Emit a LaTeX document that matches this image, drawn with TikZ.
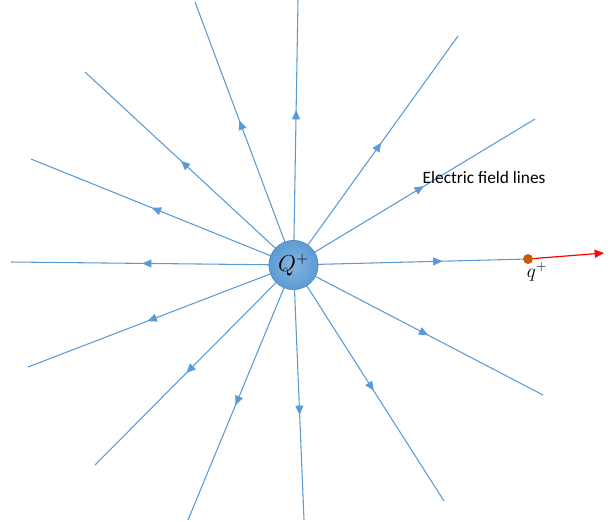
\documentclass[tikz,border=0pt]{standalone}
\usepackage{fontspec}
\usepackage{amsmath}
\newfontfamily\labelfont{Carlito}
\usetikzlibrary{arrows.meta,decorations.markings,positioning,shadings}
\definecolor{fieldblue}{RGB}{91,155,213}
\definecolor{testbrown}{RGB}{197,90,17}
\tikzset{
  fieldline/.style={draw=fieldblue, line width=0.8pt, postaction={decorate},
    decoration={markings, mark=at position #1 with {\arrow[fieldblue]{Triangle[length=7pt,width=6pt]}}}},
  fieldline/.default=0.54
}
\begin{document}
\begin{tikzpicture}[x=0.75pt,y=-0.75pt]
\useasboundingbox (0,0) rectangle (616,521);
\coordinate (O) at (293.5,265);
% outer ends of the field lines
\coordinate (e1) at (195,2);
\coordinate (e2) at (298,0);
\coordinate (e3) at (85,72);
\coordinate (e4) at (31,159);
\coordinate (e5) at (11,262);
\coordinate (e6) at (28,367);
\coordinate (e7) at (95,465);
\coordinate (e8) at (188,520);
\coordinate (e9) at (304,520);
\coordinate (e10) at (444,501);
\coordinate (e11) at (543,395);
\coordinate (e13) at (535,119);
\coordinate (e14) at (458,36);
\coordinate (tip) at (604,253);
\node[circle, fill=testbrown, minimum size=7.5pt, inner sep=0pt] (q) at (528,259) {};
\draw[fieldline=0.55] (O) -- (e1);
\draw[fieldline=0.585] (O) -- (e2);
\draw[fieldline] (O) -- (e3);
\draw[fieldline] (O) -- (e4);
\draw[fieldline=0.536] (O) -- (e5);
\draw[fieldline=0.55] (O) -- (e6);
\draw[fieldline] (O) -- (e7);
\draw[fieldline=0.55] (O) -- (e8);
\draw[fieldline=0.588] (O) -- (e9);
\draw[fieldline=0.533] (O) -- (e10);
\draw[fieldline] (O) -- (e11);
\draw[fieldline=0.65] (O) -- (q);
\draw[fieldline] (O) -- (e13);
\draw[fieldline=0.534] (O) -- (e14);
\draw[red, line width=0.9pt, -{Triangle[length=7pt,width=6pt]}] (q) -- (tip);
\node[circle, minimum size=37pt, inner sep=0pt, draw=fieldblue!85!black, line width=0.4pt,
  shading=radial, inner color=fieldblue!75!white, outer color=fieldblue] (Q) at (O)
  {\fontsize{17}{19}\selectfont$Q^+$};
\node[font=\labelfont\fontsize{13}{15}\selectfont, anchor=west] (caption) at (418,178) {Electric field lines};
\node[font=\fontsize{14}{16}\selectfont] (qlabel) at (537,272) {$q^+$};
\end{tikzpicture}
\end{document}
